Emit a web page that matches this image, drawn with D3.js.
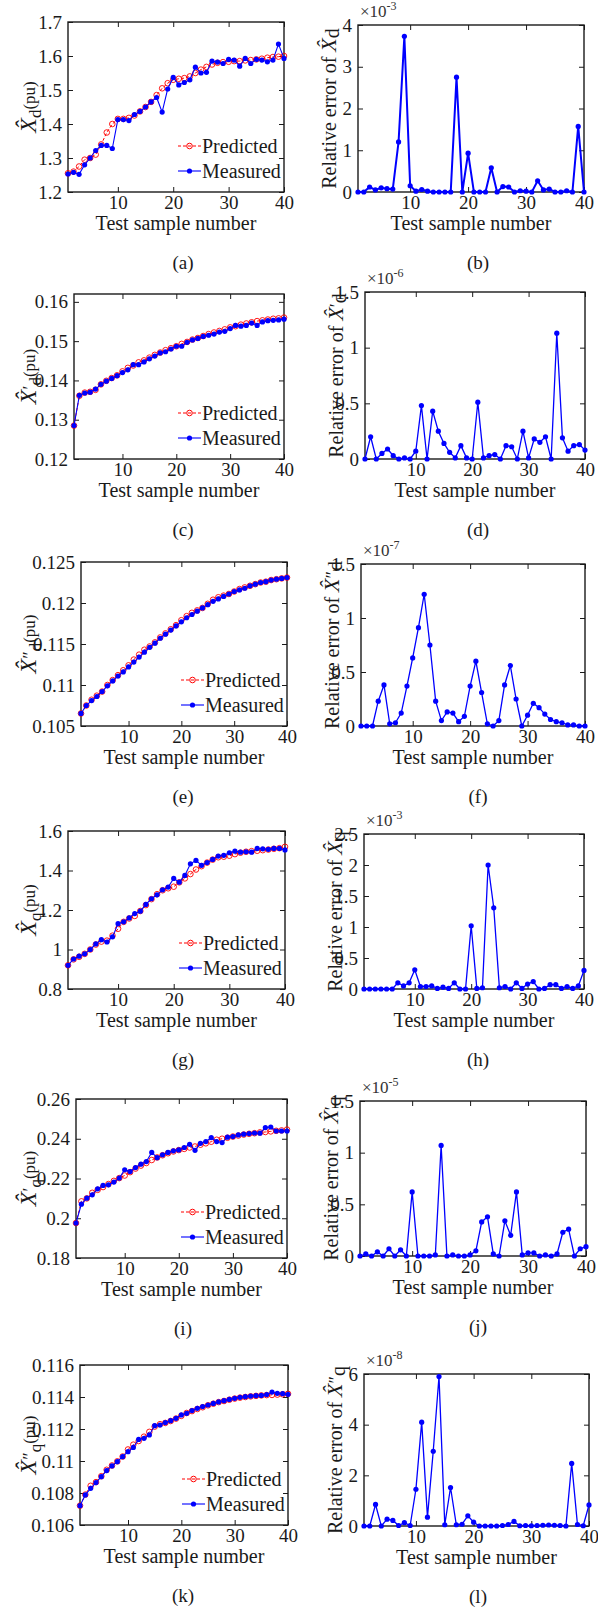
<!DOCTYPE html>
<html>
<head>
<meta charset="utf-8">
<script src="https://cdn.jsdelivr.net/npm/d3@7/dist/d3.min.js"></script>
<style>
  body { margin: 0; background: #fff; }
  text { font-family: "Liberation Serif", "DejaVu Serif", "Times New Roman", serif; fill: #1a1a1a; }
</style>
</head>
<body>
<svg id="fig" width="598" height="1609"></svg>
<script>
// test sample numbers
const sampleNo = [1,2,3,4,5,6,7,8,9,10,11,12,13,14,15,16,17,18,19,20,
                  21,22,23,24,25,26,27,28,29,30,31,32,33,34,35,36,37,38,39,40];
const xTicks = [10, 20, 30, 40];

// (a) Xd
const xdPred = [1.255,1.26,1.275,1.295,1.30,1.31,1.34,1.375,1.40,1.415,1.415,1.418,1.425,1.437,1.45,1.465,1.485,1.505,1.52,1.53,
                1.533,1.535,1.54,1.55,1.56,1.568,1.575,1.58,1.582,1.583,1.585,1.585,1.587,1.588,1.59,1.592,1.595,1.597,1.598,1.60];
const xdMeas = [1.253,1.258,1.252,1.28,1.30,1.322,1.337,1.337,1.328,1.413,1.413,1.41,1.428,1.437,1.45,1.465,1.478,1.435,1.503,1.537,
                1.515,1.522,1.53,1.567,1.55,1.552,1.585,1.582,1.578,1.59,1.588,1.57,1.593,1.578,1.59,1.588,1.583,1.588,1.635,1.593];
// (b) relative error of Xd, x1e-3
const xdErr = [0,0,0.12,0.05,0.1,0.08,0.07,1.2,3.73,0.15,0.02,0.06,0.02,0,0,0,0,2.75,0,0.93,
               0,0,0,0.58,0,0.13,0.12,0,0.03,0.02,0,0.27,0.05,0.07,0,0,0.03,0,1.57,0];

// (c) X'd
const xd1Pred = [0.1285,0.1361,0.1369,0.1371,0.1376,0.1390,0.1399,0.1406,0.1413,0.1423,0.1432,0.1438,0.1446,0.1451,0.1458,0.1465,0.1471,0.1477,0.1482,0.1487,
                 0.1493,0.1498,0.1504,0.1508,0.1513,0.1518,0.1522,0.1526,0.1530,0.1535,0.1538,0.1542,0.1545,0.1548,0.1551,0.1553,0.1555,0.1557,0.1558,0.1560];
const xd1Meas = [0.1285,0.1362,0.1368,0.1370,0.1378,0.1390,0.1398,0.1405,0.1412,0.1420,0.1427,0.1440,0.1440,0.1447,0.1455,0.1462,0.1470,0.1473,0.1480,0.1487,
                 0.1487,0.1497,0.1503,0.1507,0.1512,0.1515,0.1518,0.1523,0.1525,0.1532,0.1540,0.1538,0.1540,0.1546,0.1540,0.1549,0.1552,0.1553,0.1554,0.1556];
// (d) x1e-6
const xd1Err = [0,0.2,0,0.05,0.09,0.03,0,0.01,0,0.07,0.48,0,0.43,0.25,0.14,0.06,0.01,0.12,0.01,0,
                0.51,0.01,0.03,0.04,0,0.12,0.11,0,0.25,0.01,0.18,0.15,0.2,0,1.13,0.19,0.07,0.12,0.13,0.08];

// (e) X''d
const xd2Pred = [0.10653,0.1075,0.1082,0.1087,0.1092,0.1100,0.1106,0.1112,0.1118,0.1124,0.1131,0.1137,0.1143,0.1147,0.1152,0.1158,0.1163,0.1168,0.1173,0.1179,
                 0.1184,0.1188,0.1191,0.1194,0.1199,0.1204,0.1207,0.1209,0.1211,0.1214,0.1217,0.1219,0.1221,0.1223,0.1225,0.1226,0.1228,0.1229,0.1230,0.1231];
const xd2Meas = [0.10653,0.1075,0.1081,0.1086,0.1092,0.1099,0.1105,0.1111,0.1116,0.1122,0.1128,0.1134,0.1140,0.1146,0.1151,0.1157,0.1162,0.1167,0.1172,0.1177,
                 0.1182,0.1186,0.1190,0.1194,0.1198,0.1202,0.1205,0.1208,0.1211,0.1214,0.1216,0.1218,0.1221,0.1223,0.1225,0.1226,0.1228,0.1229,0.1230,0.1231];
// (f) x1e-7
const xd2Err = [0,0,0,0.23,0.38,0.02,0.03,0.12,0.37,0.63,0.91,1.22,0.75,0.23,0.05,0.13,0.12,0.04,0.09,0.37,
                0.6,0.31,0.02,0,0.05,0.38,0.56,0.25,0,0.1,0.21,0.17,0.11,0.06,0.04,0.03,0.01,0.01,0,0];

// (g) Xq
const xqPred = [0.92,0.95,0.963,0.978,1.0,1.025,1.04,1.045,1.07,1.105,1.14,1.157,1.17,1.195,1.225,1.255,1.28,1.30,1.31,1.318,
                1.34,1.36,1.382,1.405,1.422,1.44,1.455,1.467,1.47,1.475,1.483,1.49,1.495,1.498,1.5,1.503,1.506,1.51,1.513,1.52];
const xqMeas = [0.92,0.952,0.966,0.978,1.0,1.028,1.05,1.038,1.064,1.131,1.14,1.16,1.182,1.194,1.228,1.257,1.277,1.302,1.316,1.36,
                1.341,1.375,1.434,1.451,1.426,1.44,1.456,1.473,1.477,1.49,1.498,1.493,1.495,1.493,1.512,1.51,1.507,1.512,1.512,1.504];
// (h) x1e-3
const xqErr = [0,0,0,0,0,0,0.1,0.05,0.1,0.31,0.04,0.04,0.05,0.01,0.03,0.01,0.1,0,0,1.02,
               0.01,0.02,2.0,1.31,0.02,0.04,0,0.1,0.01,0.08,0.12,0,0.01,0.07,0.07,0.01,0.04,0.01,0.05,0.3];

// (i) X'q
const xq1Pred = [0.1976,0.2085,0.2100,0.2128,0.2143,0.2157,0.2172,0.2188,0.2202,0.2215,0.2232,0.2250,0.2265,0.2278,0.2293,0.2306,0.2317,0.2327,0.2336,0.2343,
                 0.2349,0.2356,0.2361,0.2370,0.2377,0.2385,0.2395,0.2400,0.2405,0.2411,0.2416,0.2421,0.2425,0.2428,0.2432,0.2434,0.2437,0.2440,0.2442,0.2446];
const xq1Meas = [0.1976,0.2071,0.2101,0.2118,0.2148,0.2165,0.2168,0.2182,0.2202,0.2244,0.2235,0.2255,0.2272,0.2285,0.2331,0.2305,0.2319,0.2331,0.2339,0.2344,
                 0.2356,0.2372,0.2342,0.2377,0.2386,0.2406,0.2386,0.2381,0.2408,0.2411,0.2419,0.2423,0.2426,0.2429,0.2428,0.2456,0.2459,0.2439,0.2439,0.2439];
// (j) x1e-5
const xq1Err = [0,0.02,0,0.04,0,0.07,0,0.06,0,0.62,0,0,0,0.01,1.07,0,0.01,0,0,0.01,
                0.05,0.33,0.38,0.02,0,0.34,0.2,0.62,0.01,0.03,0.03,0,0.01,0,0.02,0.23,0.26,0,0.07,0.09];

// (k) X''q
const xq2Pred = [0.10721,0.1079,0.10845,0.10868,0.10905,0.10945,0.10972,0.10998,0.11028,0.11072,0.11102,0.11125,0.11152,0.11182,0.11215,0.1123,0.11238,0.1125,0.11265,0.11282,
                 0.113,0.11312,0.11325,0.11336,0.11348,0.11358,0.11368,0.11375,0.11383,0.1139,0.11396,0.114,0.11404,0.11407,0.1141,0.11412,0.11413,0.11415,0.11417,0.1142];
const xq2Meas = [0.10721,0.10788,0.10829,0.10865,0.10902,0.1094,0.10969,0.10996,0.11027,0.11058,0.11085,0.11135,0.11142,0.11163,0.11221,0.11225,0.1124,0.11252,0.11267,0.11288,
                 0.11298,0.11315,0.11329,0.1134,0.1135,0.1136,0.11369,0.11377,0.11385,0.11392,0.11398,0.11402,0.11406,0.11408,0.1141,0.11415,0.11431,0.11423,0.11421,0.11417];
// (l) x1e-8
const xq2Err = [0,0,0.85,0,0.27,0.22,0.02,0.13,0.02,1.45,4.1,0.35,2.95,5.9,0.05,1.52,0.05,0.07,0.4,0.15,
                0,0,0,0,0.02,0.06,0.18,0.01,0.02,0.01,0.02,0.03,0.04,0.03,0.02,0,2.47,0.06,0.01,0.83];

// y tick labels
const ticksA = [1.2,1.3,1.4,1.5,1.6,1.7];
const ticksB = [0,1,2,3,4];
const ticksC = [0.12,0.13,0.14,0.15,0.16];
const ticksD = [0,0.5,1,1.5];
const ticksE = [0.105,0.11,0.115,0.12,0.125];
const ticksF = [0,0.5,1,1.5];
const ticksG = [0.8,1,1.2,1.4,1.6];
const ticksH = [0,0.5,1,1.5,2,2.5];
const ticksI = [0.18,0.2,0.22,0.24,0.26];
const ticksJ = [0,0.5,1,1.5];
const ticksK = [0.106,0.108,0.11,0.112,0.114,0.116];
const ticksL = [0,2,4,6];

// layout of each subplot: box = [left, top, right, bottom]
const panels = [
  { id: "a", pred: xdPred,  meas: xdMeas,  dom: [1.2, 1.7],     ticks: ticksA, box: [68, 22, 284, 192],   sub: "d", prime: "" },
  { id: "b", err: xdErr,    exp: "-3",     dom: [0, 4],         ticks: ticksB, box: [358, 25, 584, 192],  sub: "d", prime: "", lw: 2 },
  { id: "c", pred: xd1Pred, meas: xd1Meas, dom: [0.12, 0.162],  ticks: ticksC, box: [74, 294, 284, 459],  sub: "d", prime: "\u2032" },
  { id: "d", err: xd1Err,   exp: "-6",     dom: [0, 1.5],       ticks: ticksD, box: [365, 292, 585, 459], sub: "d", prime: "\u2032" },
  { id: "e", pred: xd2Pred, meas: xd2Meas, dom: [0.105, 0.125], ticks: ticksE, box: [81, 562, 287, 726],  sub: "d", prime: "\u2033" },
  { id: "f", err: xd2Err,   exp: "-7",     dom: [0, 1.5],       ticks: ticksF, box: [361, 564, 585, 726], sub: "d", prime: "\u2033" },
  { id: "g", pred: xqPred,  meas: xqMeas,  dom: [0.8, 1.6],     ticks: ticksG, box: [68, 831, 285, 989],  sub: "q", prime: "" },
  { id: "h", err: xqErr,    exp: "-3",     dom: [0, 2.5],       ticks: ticksH, box: [364, 834, 584, 989], sub: "q", prime: "" },
  { id: "i", pred: xq1Pred, meas: xq1Meas, dom: [0.18, 0.26],   ticks: ticksI, box: [76, 1099, 287, 1258], sub: "q", prime: "\u2032" },
  { id: "j", err: xq1Err,   exp: "-5",     dom: [0, 1.5],       ticks: ticksJ, box: [360, 1101, 586, 1256], sub: "q", prime: "\u2032" },
  { id: "k", pred: xq2Pred, meas: xq2Meas, dom: [0.106, 0.116], ticks: ticksK, box: [80, 1365, 288, 1525], sub: "q", prime: "\u2033" },
  { id: "l", err: xq2Err,   exp: "-8",     dom: [0, 6],         ticks: ticksL, box: [364, 1374, 589, 1526], sub: "q", prime: "\u2033" }
];

const svg = d3.select("#fig");
const ink = "#1a1a1a";
const fmt = v => String(+v.toFixed(4));

function styleAxis(g, size) {
  g.attr("font-family", "Liberation Serif, DejaVu Serif, serif")
   .attr("font-size", size)
   .style("color", ink);
  g.select(".domain").remove();
}

function drawPanel(p) {
  const [x0, y0, x1, y1] = p.box;
  const g = svg.append("g");
  const x = d3.scaleLinear().domain([1, 40]).range([x0, x1]);
  const y = d3.scaleLinear().domain(p.dom).range([y1, y0]);

  // axes with inward ticks on all four sides
  g.append("g").attr("transform", `translate(0,${y1})`)
    .call(d3.axisBottom(x).tickValues(xTicks).tickSizeInner(-5).tickSizeOuter(0).tickPadding(4).tickFormat(fmt))
    .call(a => styleAxis(a, 19));
  g.append("g").attr("transform", `translate(0,${y0})`)
    .call(d3.axisTop(x).tickValues(xTicks).tickSizeInner(-5).tickSizeOuter(0).tickFormat(""))
    .call(a => styleAxis(a, 19));
  g.append("g").attr("transform", `translate(${x0},0)`)
    .call(d3.axisLeft(y).tickValues(p.ticks).tickSizeInner(-5).tickSizeOuter(0).tickPadding(6).tickFormat(fmt))
    .call(a => styleAxis(a, 19));
  g.append("g").attr("transform", `translate(${x1},0)`)
    .call(d3.axisRight(y).tickValues(p.ticks).tickSizeInner(-5).tickSizeOuter(0).tickFormat(""))
    .call(a => styleAxis(a, 19));

  g.append("rect")
    .attr("x", x0).attr("y", y0)
    .attr("width", x1 - x0).attr("height", y1 - y0)
    .attr("fill", "none").attr("stroke", ink).attr("stroke-width", 1.4);

  const line = d3.line().x((d, i) => x(sampleNo[i])).y(d => y(d));

  if (p.err) {
    g.append("path").datum(p.err)
      .attr("d", line).attr("fill", "none")
      .attr("stroke", "#0000ff").attr("stroke-width", p.lw || 1.3);
    g.selectAll(".dot").data(p.err).join("circle")
      .attr("cx", (d, i) => x(sampleNo[i])).attr("cy", d => y(d))
      .attr("r", 2.6).attr("fill", "#0000ff");

    // exponent above the axis
    const e = g.append("text")
      .attr("x", x0 + 2).attr("y", y0 - 8)
      .attr("font-size", 17).style("fill", "#333");
    e.append("tspan").text("\u00d710");
    e.append("tspan").attr("font-size", 12).attr("dy", -7).text(p.exp);

    // y label
    const t = g.append("text")
      .attr("transform", `translate(${x0 - 22},${(y0 + y1) / 2}) rotate(-90)`)
      .attr("text-anchor", "middle").attr("font-size", 20);
    t.append("tspan").text("Relative error of ");
    t.append("tspan").attr("font-style", "italic").attr("font-size", 22).text("X\u0302");
    if (p.prime) t.append("tspan").attr("font-size", 18).text(p.prime);
    t.append("tspan").attr("dy", 3).text(p.sub);
  } else {
    g.append("path").datum(p.pred)
      .attr("d", line).attr("fill", "none")
      .attr("stroke", "#ff0000").attr("stroke-width", 1).attr("stroke-dasharray", "3,2");
    g.selectAll(".pdot").data(p.pred).join("circle")
      .attr("cx", (d, i) => x(sampleNo[i])).attr("cy", d => y(d))
      .attr("r", 2.8).attr("fill", "none").attr("stroke", "#ff0000").attr("stroke-width", 0.9);
    g.append("path").datum(p.meas)
      .attr("d", line).attr("fill", "none")
      .attr("stroke", "#0000ff").attr("stroke-width", 1.1);
    g.selectAll(".mdot").data(p.meas).join("circle")
      .attr("cx", (d, i) => x(sampleNo[i])).attr("cy", d => y(d))
      .attr("r", 2.6).attr("fill", "#0000ff");

    // legend (no box)
    const lg = [
      { label: "Predicted", dy: 46, color: "#ff0000", dash: "3,2", open: true },
      { label: "Measured", dy: 21, color: "#0000ff", dash: null, open: false }
    ];
    lg.forEach(l => {
      const ly = y1 - l.dy;
      g.append("line")
        .attr("x1", x1 - 106).attr("x2", x1 - 83)
        .attr("y1", ly).attr("y2", ly)
        .attr("stroke", l.color).attr("stroke-width", 1.1)
        .attr("stroke-dasharray", l.dash);
      g.append("circle")
        .attr("cx", x1 - 94.5).attr("cy", ly).attr("r", l.open ? 2.8 : 2.6)
        .attr("fill", l.open ? "none" : l.color)
        .attr("stroke", l.open ? l.color : null);
      g.append("text")
        .attr("x", x1 - 82).attr("y", ly).attr("dy", "0.35em")
        .attr("font-size", 20).text(l.label);
    });

    // y label
    const t = g.append("text")
      .attr("transform", `translate(36,${(y0 + y1) / 2}) rotate(-90)`)
      .attr("text-anchor", "middle").attr("font-size", 18);
    t.append("tspan").attr("font-style", "italic").attr("font-size", 24).text("X\u0302");
    if (p.prime) t.append("tspan").attr("font-size", 18).text(p.prime);
    t.append("tspan").attr("dy", 5).attr("font-size", 17).text(p.sub);
    t.append("tspan").attr("dy", -6).attr("font-size", 17).text("(pu)");
  }

  // x label and caption
  g.append("text")
    .attr("x", (x0 + x1) / 2).attr("y", y1 + 38)
    .attr("text-anchor", "middle").attr("font-size", 20)
    .text("Test sample number");
  g.append("text")
    .attr("x", p.err ? 478 : 183).attr("y", y1 + 77)
    .attr("text-anchor", "middle").attr("font-size", 19)
    .text(`(${p.id})`);
}

panels.forEach(drawPanel);
</script>
</body>
</html>
